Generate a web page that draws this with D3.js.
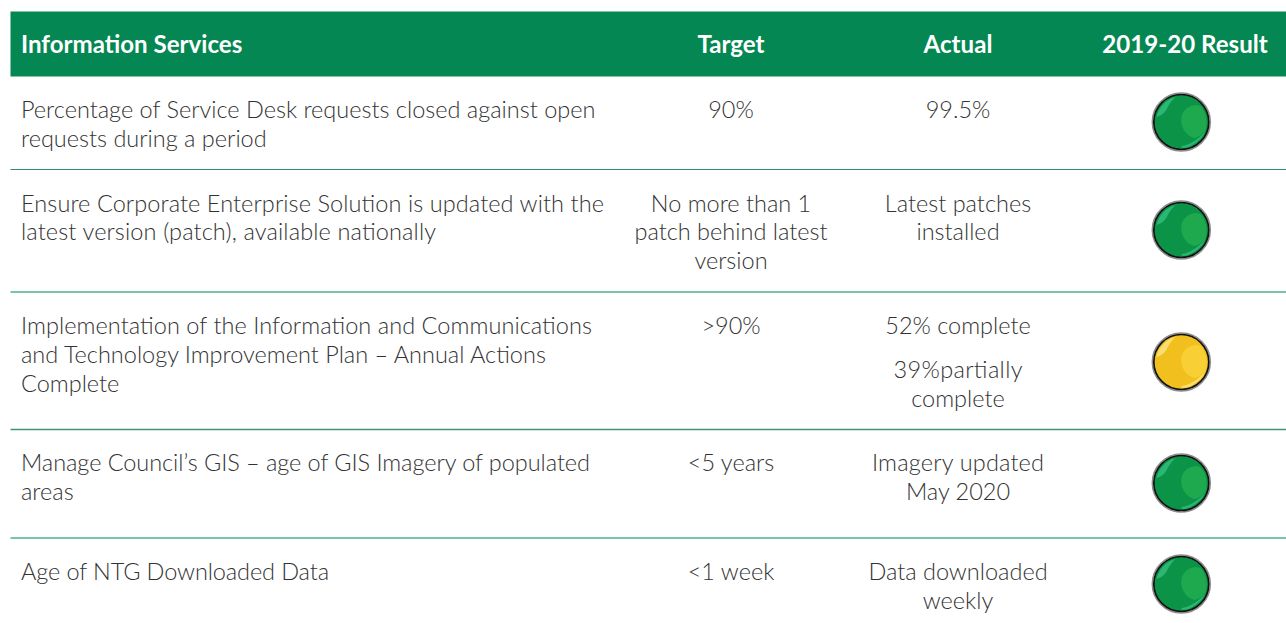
<!DOCTYPE html>
<html>
<head>
<meta charset="utf-8">
<script src="https://cdn.jsdelivr.net/npm/d3@7"></script>
<style>
    html, body { margin: 0; padding: 0; background: #fff; overflow: hidden; }
    text { font-family: Lato, sans-serif; }
</style>
</head>
<body>
<div id="chart"></div>
<script>
var title = "Information Services";
var columnHeads = ["Target", "Actual", "2019-20 Result"];

var measures = [
    ["Percentage of Service Desk requests closed against open", "requests during a period"],
    ["Ensure Corporate Enterprise Solution is updated with the", "latest version (patch), available nationally"],
    ["Implementation of the Information and Communications", "and Technology Improvement Plan \u2013 Annual Actions", "Complete"],
    ["Manage Council\u2019s GIS \u2013 age of GIS Imagery of populated", "areas"],
    ["Age of NTG Downloaded Data"]
];
var targets = [
    ["90%"],
    ["No more than 1", "patch behind latest", "version"],
    [">90%"],
    ["<5 years"],
    ["<1 week"]
];
var actuals = [
    ["99.5%"],
    ["Latest patches", "installed"],
    ["52% complete", "", "39%partially", "complete"],
    ["Imagery updated", "May 2020"],
    ["Data downloaded", "weekly"]
];
var results = ["green", "green", "amber", "green", "green"];

var rowLines = [169.5, 292, 429.5, 538];
var lineColors = ["#2f8f6c", "#7cc4a8", "#3f9478", "#7cc4a8"];
var lineWidths = [1, 2, 1.4, 2];
var firstBaselines = [118, 212, 334, 471, 580];
var rowSteps = [28.6, 28.4, 29, 28.6, 28.6];
var lampCentres = [122, 230, 362, 483, 584];

// Lines the default font sets a little wider or narrower than the picture
var fittedLines = {
    "Ensure Corporate Enterprise Solution is updated with the": 583,
    "latest version (patch), available nationally": 415,
    "Implementation of the Information and Communications": 571,
    "Manage Council\u2019s GIS \u2013 age of GIS Imagery of populated": 569,
    "Age of NTG Downloaded Data": 308,
    "Imagery updated": 172,
    "39%partially": 129
};

var lampColors = {
    green: { base: "#0b9448", light: "#1fa94f", shine: "#2bb673" },
    amber: { base: "#f2c01e", light: "#f8d035", shine: "#fadf70" }
};

var width = 1286,
    height = 623,
    textColor = "#333";

var svg = d3.select("#chart").append("svg")
    .attr("width", width)
    .attr("height", height);

// Header band
svg.append("rect")
    .attr("x", 10.5)
    .attr("y", 11.5)
    .attr("width", width - 10.5)
    .attr("height", 65)
    .attr("fill", "#048752");

var columns = [731, 958, 1185];

svg.append("text")
    .attr("x", 21)
    .attr("y", 53)
    .attr("fill", "#fff")
    .attr("font-size", 24.1)
    .attr("font-weight", 700)
    .text(title);

svg.selectAll(".head")
    .data(columnHeads)
    .enter().append("text")
    .attr("class", "head")
    .attr("x", function (d, i) { return columns[i]; })
    .attr("y", 53)
    .attr("text-anchor", "middle")
    .attr("fill", "#fff")
    .attr("font-size", 24.1)
    .attr("font-weight", 700)
    .text(function (d) { return d; });

// Row separators
svg.selectAll(".rule")
    .data(rowLines)
    .enter().append("line")
    .attr("class", "rule")
    .attr("x1", 10.5)
    .attr("x2", width)
    .attr("y1", function (d) { return d; })
    .attr("y2", function (d) { return d; })
    .attr("stroke", function (d, i) { return lineColors[i]; })
    .attr("stroke-width", function (d, i) { return lineWidths[i]; });

function cell(lines, rowIndex, x, anchor) {
    var baseline = firstBaselines[rowIndex];
    var offset = 0;
    lines.forEach(function (line) {
        // a blank entry is the paragraph gap in the Actual cell
        if (line === "") {
            offset += 15.3;
            return;
        }
        var label = svg.append("text")
            .attr("x", x)
            .attr("y", baseline + offset)
            .attr("text-anchor", anchor)
            .attr("fill", textColor)
            .attr("font-size", 23.5)
            .attr("font-weight", 300)
            .text(line);
        if (fittedLines[line]) label.attr("textLength", fittedLines[line]);
        offset += rowSteps[rowIndex];
    });
}

measures.forEach(function (d, i) { cell(d, i, 21, "start"); });
targets.forEach(function (d, i) { cell(d, i, columns[0], "middle"); });
actuals.forEach(function (d, i) { cell(d, i, columns[1], "middle"); });

// Result lamps
var lamps = svg.selectAll(".lamp")
    .data(results)
    .enter().append("g")
    .attr("class", "lamp")
    .attr("transform", function (d, i) {
        return "translate(1181.3," + lampCentres[i] + ")";
    });

lamps.append("circle")
    .attr("r", 29)
    .attr("fill", "#fff")
    .attr("stroke", "#8c8c8c")
    .attr("stroke-width", 1.5);

lamps.append("circle")
    .attr("r", 27.5)
    .attr("fill", function (d) { return lampColors[d].base; })
    .attr("stroke", "#111")
    .attr("stroke-width", 1.7);

lamps.append("path")
    .attr("d", "M14,-17 C4,-16 -1,-8 0,0 C1,8 6,14 13,16 C18,15 22,12 24,9 C27,0 25,-10 19,-16 C17,-17 15,-17 14,-17 Z")
    .attr("fill", function (d) { return lampColors[d].light; });

lamps.append("path")
    .attr("d", "M-25,-5 C-22,-15 -16,-22 -6,-25 C-10,-21 -13,-17 -15,-12 C-18,-8 -21,-6 -25,-5 Z")
    .attr("fill", function (d) { return lampColors[d].shine; });

lamps.append("path")
    .attr("d", "M0,24 C9,23 17,17 24,10 C20,18 10,26 1,26 Z")
    .attr("fill", function (d) { return lampColors[d].shine; });
</script>
</body>
</html>
